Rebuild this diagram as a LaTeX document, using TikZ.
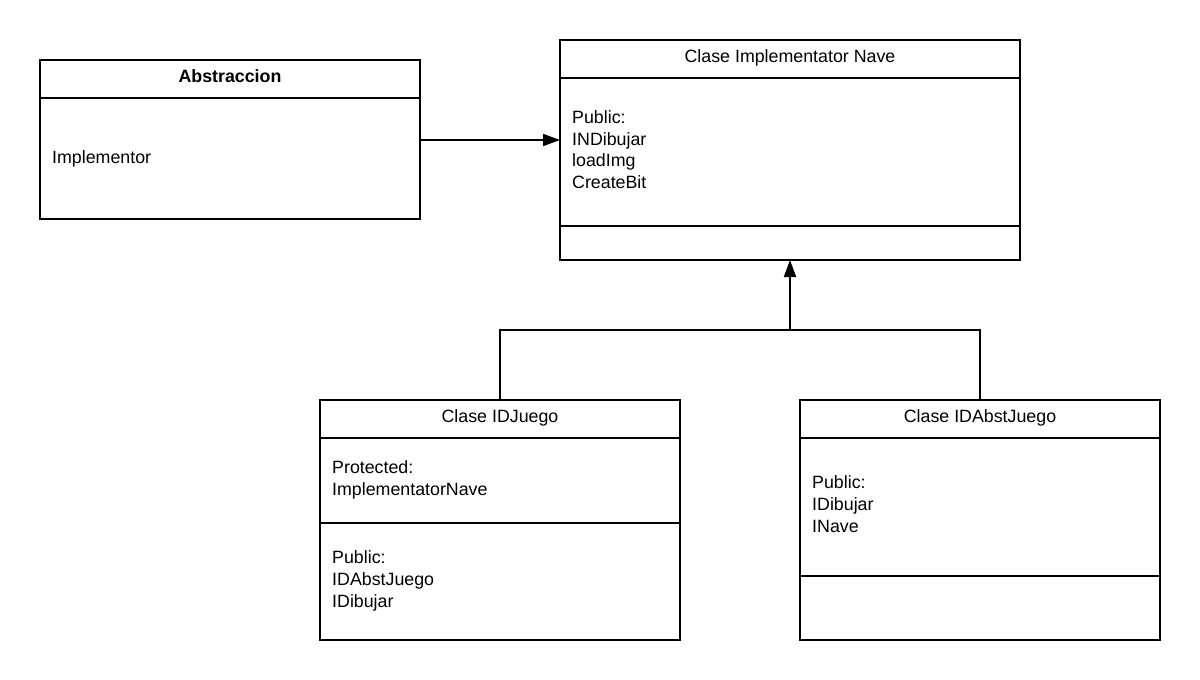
\documentclass[tikz,border=0pt]{standalone}
\usepackage{fontspec}
\setmainfont{Liberation Sans}
\usetikzlibrary{arrows.meta}
\begin{document}
\begin{tikzpicture}[x=1pt,y=-1pt,
  box/.style={draw,line width=2pt,fill=white},
  sep/.style={line width=2pt},
  conn/.style={line width=2pt,-{Triangle[length=17pt,width=12pt]}},
  txt/.style={anchor=base west,inner sep=0pt,font=\fontsize{17.8}{21}\selectfont},
  ttl/.style={anchor=base,inner sep=0pt,font=\fontsize{17.8}{21}\selectfont}]
\useasboundingbox[fill=white] (0,0) rectangle (1200,680);
% Abstraccion
\draw[box] (40,60) rectangle (420,219);
\coordinate (absR) at (420,140);
\draw[sep] (40,98) -- (420,98);
\node[ttl,font=\fontsize{17.8}{21}\selectfont\bfseries] (absT) at (230,82.5) {Abstraccion};
\node[txt] (absA) at (52,163.5) {Implementor};
% Implementator Nave
\draw[box] (560,40) rectangle (1020,260);
\coordinate (impL) at (560,140);
\coordinate (impB) at (790,260);
\draw[sep] (560,78) -- (1020,78);
\draw[sep] (560,226) -- (1020,226);
\node[ttl] (impT) at (790,62.5) {Clase Implementator Nave};
\node[txt] (imp1) at (572,123.5) {Public:};
\node[txt] (imp2) at (572,145.5) {INDibujar};
\node[txt] (imp3) at (572,166.5) {loadImg};
\node[txt] (imp4) at (572,188.5) {CreateBit};
% IDJuego
\draw[box] (320,400) rectangle (680,640);
\coordinate (jT) at (500,400);
\draw[sep] (320,438) -- (680,438);
\draw[sep] (320,523) -- (680,523);
\node[ttl] (jTt) at (500,422.5) {Clase IDJuego};
\node[txt] (j1) at (332,473.5) {Protected:};
\node[txt] (j2) at (332,495.5) {ImplementatorNave};
\node[txt] (j3) at (332,563.5) {Public:};
\node[txt] (j4) at (332,585.5) {IDAbstJuego};
\node[txt] (j5) at (332,607.5) {IDibujar};
% IDAbstJuego
\draw[box] (800,400) rectangle (1160,640);
\coordinate (aT) at (980,400);
\draw[sep] (800,438) -- (1160,438);
\draw[sep] (800,576) -- (1160,576);
\node[ttl] (aTt) at (980,422.5) {Clase IDAbstJuego};
\node[txt] (a1) at (812,488.5) {Public:};
\node[txt] (a2) at (812,510.5) {IDibujar};
\node[txt] (a3) at (812,532.5) {INave};
% connectors
\draw[conn] (absR) -- (impL);
\coordinate (mid) at (790,330);
\draw[sep,line join=miter] (jT) |- (mid) -| (aT);
\draw[conn] (mid) -- (impB);
\end{tikzpicture}
\end{document}
